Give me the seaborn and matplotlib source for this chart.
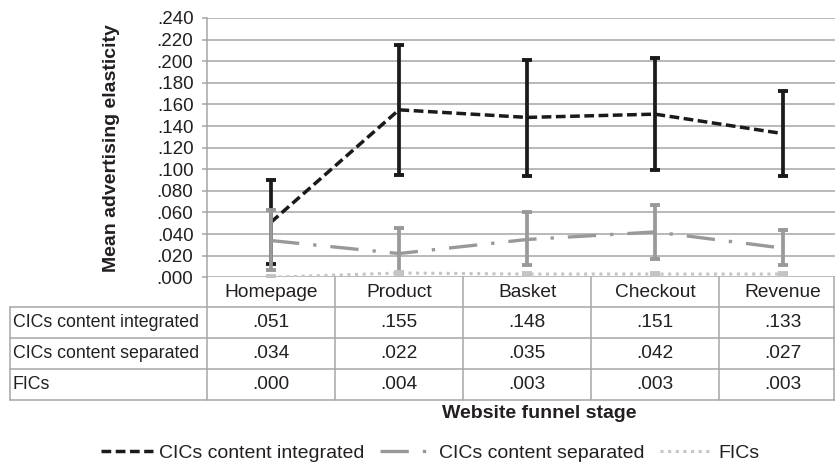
import numpy as np
import pandas as pd
import matplotlib
matplotlib.use("Agg")
import matplotlib.pyplot as plt
import matplotlib.transforms as mtransforms
from matplotlib.lines import Line2D
import seaborn as sns

# ---------------- data ----------------
stages = ["Homepage", "Product", "Basket", "Checkout", "Revenue"]
series_names = ["CICs content integrated", "CICs content separated", "FICs"]

integrated = [0.051, 0.155, 0.148, 0.151, 0.133]
integrated_lo = [0.012, 0.095, 0.094, 0.099, 0.094]
integrated_hi = [0.090, 0.215, 0.201, 0.203, 0.172]

separated = [0.034, 0.022, 0.035, 0.042, 0.027]
separated_lo = [0.007, 0.004, 0.011, 0.017, 0.011]
separated_hi = [0.062, 0.046, 0.060, 0.067, 0.044]

fics = [0.000, 0.004, 0.003, 0.003, 0.003]
fics_lo = [0.000, 0.003, 0.002, 0.002, 0.002]
fics_hi = [0.001, 0.005, 0.004, 0.004, 0.004]

y_ticks = [0.000, 0.020, 0.040, 0.060, 0.080, 0.100, 0.120,
           0.140, 0.160, 0.180, 0.200, 0.220, 0.240]
y_tick_labels = [".000", ".020", ".040", ".060", ".080", ".100", ".120",
                 ".140", ".160", ".180", ".200", ".220", ".240"]

# ---------------- style ----------------
sns.set_theme(style="white")
plt.rcParams["font.family"] = ["Liberation Sans", "DejaVu Sans"]
TXT = "#231f20"
GRID = "#a6a6a6"

W, H = 835, 466
fig = plt.figure(figsize=(W / 100, H / 100), dpi=100)
y0_px, ytop_px = 277.3, 18.0
ax = fig.add_axes([207 / W, (H - y0_px) / H, 640 / W, (y0_px - ytop_px) / H])

pos = np.arange(len(stages))
series = [
    (integrated, integrated_lo, integrated_hi, "#1a1a1a", (0, (2.8, 1.3)), 2.5),
    (separated, separated_lo, separated_hi, "#999999", (0, (8.5, 4.2, 1.0, 4.2)), 2.4),
    (fics, fics_lo, fics_hi, "#c4c4c4", (0, (1.0, 1.5)), 2.2),
]

z = 3
for name, (vals, lo, hi, col, ls, lw) in zip(series_names, series):
    v = np.array(vals)
    yerr = [v - np.array(lo), np.array(hi) - v]
    ax.errorbar(pos, v, yerr=yerr, fmt="none", ecolor=col, elinewidth=2.7,
                capsize=3.8, capthick=2.8, zorder=z)
    df = pd.DataFrame({"pos": pos, "value": v})
    sns.lineplot(data=df, x="pos", y="value", ax=ax, color=col, linewidth=lw,
                 linestyle=ls, dash_capstyle="butt", label=name, errorbar=None,
                 zorder=z + 1)
    z += 2

ax.set_xlim(-0.5, len(stages) - 0.5)
ax.set_ylim(0, 0.24)
ax.set_yticks(y_ticks)
ax.set_yticklabels(y_tick_labels)
ax.set_xticks([])
ax.set_xlabel("")
ax.set_ylabel("")
ax.yaxis.grid(True, color=GRID, linewidth=1.1)
ax.set_axisbelow(True)
for s in ["top", "right", "bottom"]:
    ax.spines[s].set_visible(False)
ax.spines["left"].set_color(GRID)
ax.spines["left"].set_linewidth(1.1)
ax.tick_params(axis="y", which="both", left=True, length=3.8, width=1.1,
               color=GRID, labelsize=13.5, labelcolor=TXT, pad=6)

handles, labels = ax.get_legend_handles_labels()
ax.get_legend().remove()

# ---------------- data table ----------------
def fy(px):
    return (H - px) / H

trans = mtransforms.blended_transform_factory(ax.transData, fig.transFigure)
rows_px = [277.3, 307.0, 338.3, 369.3, 399.5]

for ypx in rows_px[1:]:
    fig.add_artist(Line2D([10 / W, 1.0], [fy(ypx), fy(ypx)], color=GRID,
                          linewidth=1.1, transform=fig.transFigure))
fig.add_artist(Line2D([10 / W, 10 / W], [fy(rows_px[1]), fy(rows_px[-1])],
                      color=GRID, linewidth=1.1, transform=fig.transFigure))
for i in range(len(stages) + 1):
    fig.add_artist(Line2D([i - 0.5, i - 0.5], [fy(rows_px[0]), fy(rows_px[-1])],
                          color=GRID, linewidth=1.1, transform=trans))
fig.add_artist(Line2D([834.3 / W, 834.3 / W], [fy(rows_px[0]), fy(rows_px[-1])],
                      color=GRID, linewidth=1.1, transform=fig.transFigure))

hy = fy((rows_px[0] + rows_px[1]) / 2)
for i, st in enumerate(stages):
    fig.text(i, hy, st, transform=trans, ha="center", va="center",
             fontsize=13.8, color=TXT)

for r, (name, (vals, *_rest)) in enumerate(zip(series_names, series)):
    cy = fy((rows_px[r + 1] + rows_px[r + 2]) / 2)
    fig.text(13 / W, cy, name, ha="left", va="center", fontsize=12.8, color=TXT)
    for i, v in enumerate(vals):
        fig.text(i, cy, f"{v:.3f}"[1:], transform=trans, ha="center",
                 va="center", fontsize=13.8, color=TXT)

fig.text(539 / W, fy(414), "Website funnel stage", ha="center", va="center",
         fontsize=14, fontweight="bold", color=TXT)
fig.text(112 / W, fy(148), "Mean advertising elasticity", ha="center",
         va="center", rotation=90, fontsize=14, fontweight="bold", color=TXT)

leg = fig.legend(handles, labels, loc="center", bbox_to_anchor=(430 / W, fy(453)),
                 ncol=3, frameon=False, fontsize=14, handlelength=2.7,
                 handletextpad=0.3, columnspacing=0.8, borderpad=0.0)
for t in leg.get_texts():
    t.set_color(TXT)

fig.savefig("out.png", dpi=100)
